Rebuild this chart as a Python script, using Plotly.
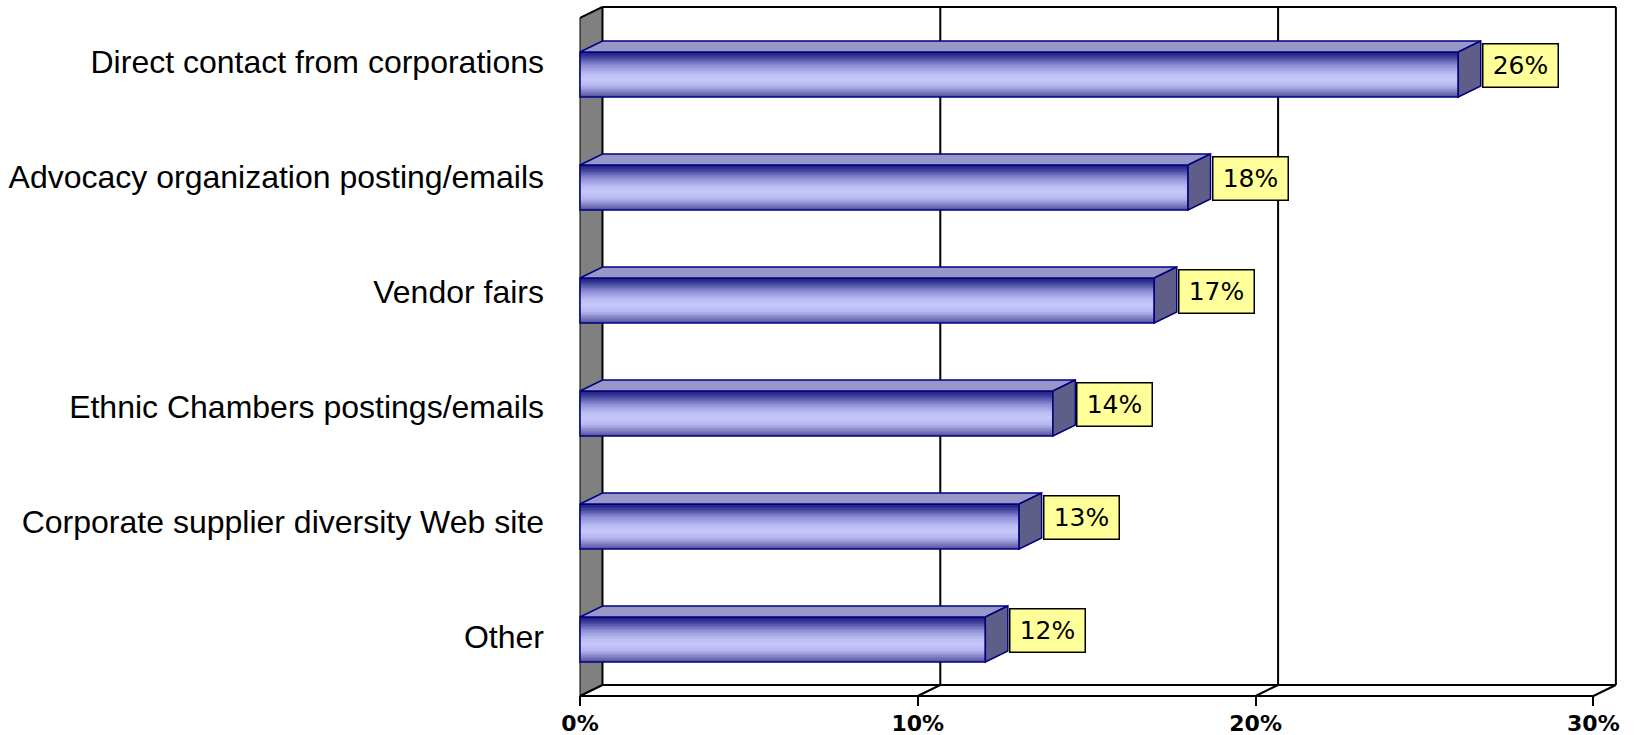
import plotly.graph_objects as go

# ---------------- data ----------------
categories = [
    "Direct contact from corporations",
    "Advocacy organization posting/emails",
    "Vendor fairs",
    "Ethnic Chambers postings/emails",
    "Corporate supplier diversity Web site",
    "Other",
]
values = [26, 18, 17, 14, 13, 12]
value_labels = ["26%", "18%", "17%", "14%", "13%", "12%"]
x_tick_values = [0, 10, 20, 30]
x_tick_labels = ["0%", "10%", "20%", "30%"]

# ---------------- geometry / style ----------------
n = len(categories)
pos = [n - 1 - i for i in range(n)]          # first category at the top
X_MAX = x_tick_values[-1]
DX = 0.666      # 3-D depth, x units
DY = 0.0973     # 3-D depth, y units
H = 0.199       # half bar thickness
Y0 = -0.5
Y1 = n - 0.5

stops = [
    (0.00, (22, 22, 128)),
    (0.12, (62, 62, 152)),
    (0.30, (140, 140, 212)),
    (0.50, (190, 190, 244)),
    (0.62, (198, 198, 250)),
    (0.76, (182, 182, 238)),
    (0.90, (128, 128, 194)),
    (1.00, (82, 82, 160)),
]


def grad(t):
    for (t0, c0), (t1, c1) in zip(stops[:-1], stops[1:]):
        if t0 <= t <= t1:
            f = (t - t0) / (t1 - t0)
            c = [round(a + (b - a) * f) for a, b in zip(c0, c1)]
            return "rgb(%d,%d,%d)" % tuple(c)
    return "rgb(%d,%d,%d)" % stops[-1][1]


fig = go.Figure()

# ---- walls, gridlines and floor as shapes below the traces ----
wall_path = "M %f,%f L %f,%f L %f,%f L %f,%f Z" % (
    0, Y0, 0, Y1, DX, Y1 + DY, DX, Y0 + DY)
fig.add_shape(type="path", path=wall_path, xref="x", yref="y",
              fillcolor="#808080", line=dict(color="black", width=1),
              layer="below")


def seg(x0, y0, x1, y1, w=2):
    fig.add_shape(type="line", x0=x0, y0=y0, x1=x1, y1=y1,
                  xref="x", yref="y", line=dict(color="black", width=w),
                  layer="below")


seg(DX, Y0 + DY, DX, Y1 + DY)
seg(0, Y1, DX, Y1 + DY)
seg(DX, Y1 + DY, X_MAX + DX, Y1 + DY)
for t in x_tick_values[1:]:
    seg(t + DX, Y0 + DY, t + DX, Y1 + DY)
seg(DX, Y0 + DY, X_MAX + DX, Y0 + DY)
seg(0, Y0, X_MAX, Y0)
for t in x_tick_values:
    seg(t, Y0, t + DX, Y0 + DY)

# ---- bar top faces and end faces ----
tx, ty, sx, sy = [], [], [], []
for v, p in zip(values, pos):
    tx += [0, v, v + DX, DX, 0, None]
    ty += [p + H, p + H, p + H + DY, p + H + DY, p + H, None]
    sx += [v, v + DX, v + DX, v, v, None]
    sy += [p + H, p + H + DY, p - H + DY, p - H, p + H, None]
fig.add_trace(go.Scatter(x=tx, y=ty, mode="lines", fill="toself",
                         fillcolor="#9898C8",
                         line=dict(color="#000080", width=1.5),
                         hoverinfo="skip", showlegend=False))
fig.add_trace(go.Scatter(x=sx, y=sy, mode="lines", fill="toself",
                         fillcolor="#5E5E88",
                         line=dict(color="#000080", width=1.5),
                         hoverinfo="skip", showlegend=False))

# ---- front faces with vertical gradient (stacked stripes) ----
M = 30
s = 2 * H / M
for i in range(M):
    fig.add_trace(go.Bar(
        x=values, y=pos, orientation="h",
        width=s * 1.25 if i < M - 1 else s,
        offset=H - (i + 1) * s,
        marker=dict(color=grad((i + 0.5) / M), line=dict(width=0)),
        hoverinfo="skip", showlegend=False))

# front face outline
fig.add_trace(go.Bar(
    x=values, y=pos, orientation="h", width=2 * H, offset=-H,
    marker=dict(color="rgba(0,0,0,0)", line=dict(color="#000080", width=1.5)),
    hoverinfo="skip", showlegend=False))

# invisible trace carrying the category axis
fig.add_trace(go.Scatter(x=[0] * n, y=pos, yaxis="y2", mode="markers",
                         marker=dict(opacity=0), hoverinfo="skip",
                         showlegend=False))

# ---- value labels ----
for v, p, lab in zip(values, pos, value_labels):
    fig.add_annotation(
        x=v + DX, y=p, xref="x", yref="y", text=lab, showarrow=False,
        xanchor="left", yanchor="middle", xshift=1, yshift=9,
        bgcolor="#FFFF99", bordercolor="black", borderwidth=1.5,
        borderpad=0, width=74, height=42, align="center", valign="middle",
        font=dict(family="DejaVu Sans", size=25, color="black"))

fig.update_layout(
    width=1641, height=735,
    margin=dict(l=560, r=6, t=0, b=29),
    paper_bgcolor="white", plot_bgcolor="white",
    showlegend=False, barmode="overlay",
    xaxis=dict(range=[-0.592, 31.232], tickmode="array",
               tickvals=x_tick_values, ticktext=x_tick_labels,
               ticks="inside", ticklen=10, tickwidth=2, tickcolor="black",
               showgrid=False, zeroline=False, showline=False,
               automargin=False, ticklabelstandoff=2,
               tickfont=dict(family="DejaVu Sans", size=22, color="black",
                             weight="bold")),
    yaxis=dict(range=[-0.5885, 5.659], showticklabels=False, ticks="",
               showgrid=False, zeroline=False, showline=False,
               automargin=False),
    yaxis2=dict(overlaying="y", anchor="x", side="left",
                range=[-0.6052, 5.5339], tickmode="array",
                tickvals=pos, ticktext=categories, ticks="",
                showgrid=False, zeroline=False, showline=False,
                automargin=False, ticklabelstandoff=15,
                tickfont=dict(family="Arial, Liberation Sans", size=32,
                              color="black")),
)

fig.write_html("out.html",
               config={"displayModeBar": False},
               post_script="document.body.style.margin='0';"
                           "document.body.style.overflow='hidden';")
